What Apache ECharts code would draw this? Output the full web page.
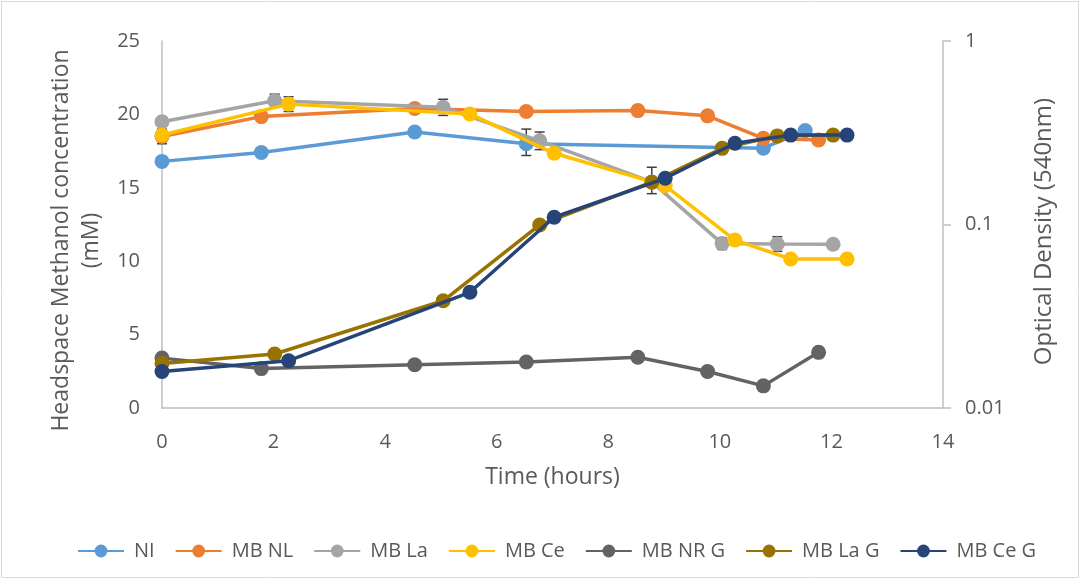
<!DOCTYPE html>
<html><head><meta charset="utf-8">
<script src="https://cdn.jsdelivr.net/npm/echarts@6/dist/echarts.min.js"></script>
<style>html,body{margin:0;padding:0;background:#fff}#c{width:1081px;height:580px}</style>
</head><body><div id="c"></div>
<script>
// Methanol (mM), left axis: [time, value]
const NI      = [[0,16.8],[1.78,17.4],[4.53,18.8],[6.53,18.0],[10.78,17.7],[11.53,18.9]];
const MB_NL   = [[0,18.5],[1.78,19.85],[4.53,20.4],[6.53,20.2],[8.53,20.26],[9.78,19.9],[10.78,18.37],[11.77,18.26]];
const MB_La   = [[0,19.5],[2.02,20.93],[5.04,20.48],[6.77,18.2],[8.78,15.4],[10.04,11.2],[11.03,11.17],[12.03,11.15]];
const MB_Ce   = [[0,18.6],[2.27,20.7],[5.52,20.03],[7.03,17.35],[9.02,15.15],[10.27,11.44],[11.27,10.15],[12.28,10.15]];
// Optical density (540nm), right log axis
const MB_NR_G = [[0,0.0187],[1.78,0.0164],[4.53,0.0172],[6.53,0.0178],[8.53,0.0189],[9.78,0.0158],[10.78,0.0132],[11.77,0.0201]];
const MB_La_G = [[0,0.0175],[2.02,0.0197],[5.04,0.0384],[6.77,0.0994],[8.78,0.170],[10.04,0.260],[11.03,0.304],[12.03,0.307]];
const MB_Ce_G = [[0,0.0158],[2.27,0.0181],[5.52,0.0427],[7.03,0.1095],[9.02,0.1786],[10.27,0.277],[11.27,0.307],[12.28,0.307]];
// error bars on methanol: [time, value, error]
const errBars = [[0,18.5,0.5],[2.02,20.93,0.45],[2.27,20.7,0.5],[5.04,20.48,0.55],[6.53,18.1,0.9],[6.77,18.2,0.6],[8.78,15.5,0.9],[10.04,11.2,0.4],[11.03,11.17,0.5]];

const seriesNames = ['NI','MB NL','MB La','MB Ce','MB NR G','MB La G','MB Ce G'];
const seriesData  = [NI,MB_NL,MB_La,MB_Ce,MB_NR_G,MB_La_G,MB_Ce_G];
const seriesAxis  = [0,0,0,0,1,1,1];
const colors = ['#5B9BD5','#ED7D31','#A5A5A5','#FFC000','#636363','#997300','#264478'];
const xTicks = [0,2,4,6,8,10,12,14];

const FONT = '"Open Sans", sans-serif';
const TXT = '#595959';
const chart = echarts.init(document.getElementById('c'), null, {renderer:'canvas'});

const series = seriesNames.map((n,i)=>({
  name:n, type:'line', yAxisIndex:seriesAxis[i], data:seriesData[i],
  symbol:'circle', symbolSize:15, color:colors[i],
  lineStyle:{width:3.5,color:colors[i]}, itemStyle:{color:colors[i]},
  z:3+i, animation:false
}));
series.push({
  type:'custom', yAxisIndex:0, data:errBars, z:2, silent:true, animation:false,
  renderItem:(params, api)=>{
    const x=api.value(0), y=api.value(1), e=api.value(2);
    const top=api.coord([x,y+e]), bot=api.coord([x,y-e]);
    const s={stroke:'#404040',lineWidth:1.5};
    return {type:'group',children:[
      {type:'line',shape:{x1:top[0],y1:top[1],x2:bot[0],y2:bot[1]},style:s},
      {type:'line',shape:{x1:top[0]-5,y1:top[1],x2:top[0]+5,y2:top[1]},style:s},
      {type:'line',shape:{x1:bot[0]-5,y1:bot[1],x2:bot[0]+5,y2:bot[1]},style:s}
    ]};
  }
});

chart.setOption({
  animation:false,
  textStyle:{fontFamily:FONT},
  grid:{left:162,right:138,top:41,bottom:172,containLabel:false},
  graphic:[{type:'rect',shape:{x:1.5,y:1.5,width:1077,height:576},style:{fill:'none',stroke:'#D9D9D9',lineWidth:1},z:-1}],
  legend:{
    data:seriesNames, bottom:14, left:72, itemWidth:46, itemHeight:16, itemGap:20,
    textStyle:{color:TXT,fontSize:20,fontFamily:FONT,padding:[0,0,0,5]}
  },
  xAxis:{
    type:'value', min:0, max:14, interval:2,
    name:'Time (hours)', nameLocation:'middle', nameGap:58,
    nameTextStyle:{color:TXT,fontSize:23,fontFamily:FONT},
    axisLine:{show:true,lineStyle:{color:'#BFBFBF',width:1.5}},
    axisTick:{show:false}, splitLine:{show:false},
    axisLabel:{color:TXT,fontSize:20,margin:24,fontFamily:FONT,
      formatter:v=>xTicks.includes(v)?String(v):''}
  },
  yAxis:[{
    type:'value', min:0, max:25, interval:5, position:'left',
    name:'Headspace Methanol concentration\n(mM)', nameLocation:'middle', nameGap:55, nameRotate:90,
    nameTextStyle:{color:TXT,fontSize:23,lineHeight:30,fontFamily:FONT,padding:[0,32,0,0]},
    axisLine:{show:true,lineStyle:{color:'#BFBFBF',width:1.5}},
    axisTick:{show:false}, splitLine:{show:false},
    axisLabel:{color:TXT,fontSize:20,margin:22,fontFamily:FONT}
  },{
    type:'log', logBase:10, min:0.01, max:1, position:'right',
    name:'Optical Density (540nm)', nameLocation:'middle', nameGap:89, nameRotate:90,
    nameTextStyle:{color:TXT,fontSize:24,fontFamily:FONT,padding:[0,14,0,0]},
    axisLine:{show:true,lineStyle:{color:'#BFBFBF',width:1.5}},
    axisTick:{show:true,inside:false,length:8,lineStyle:{color:'#BFBFBF',width:1.5}},
    splitLine:{show:false},
    axisLabel:{color:TXT,fontSize:20,margin:22,fontFamily:FONT,
      formatter:v=>String(+v.toPrecision(3))}
  }],
  series
});
</script></body></html>
